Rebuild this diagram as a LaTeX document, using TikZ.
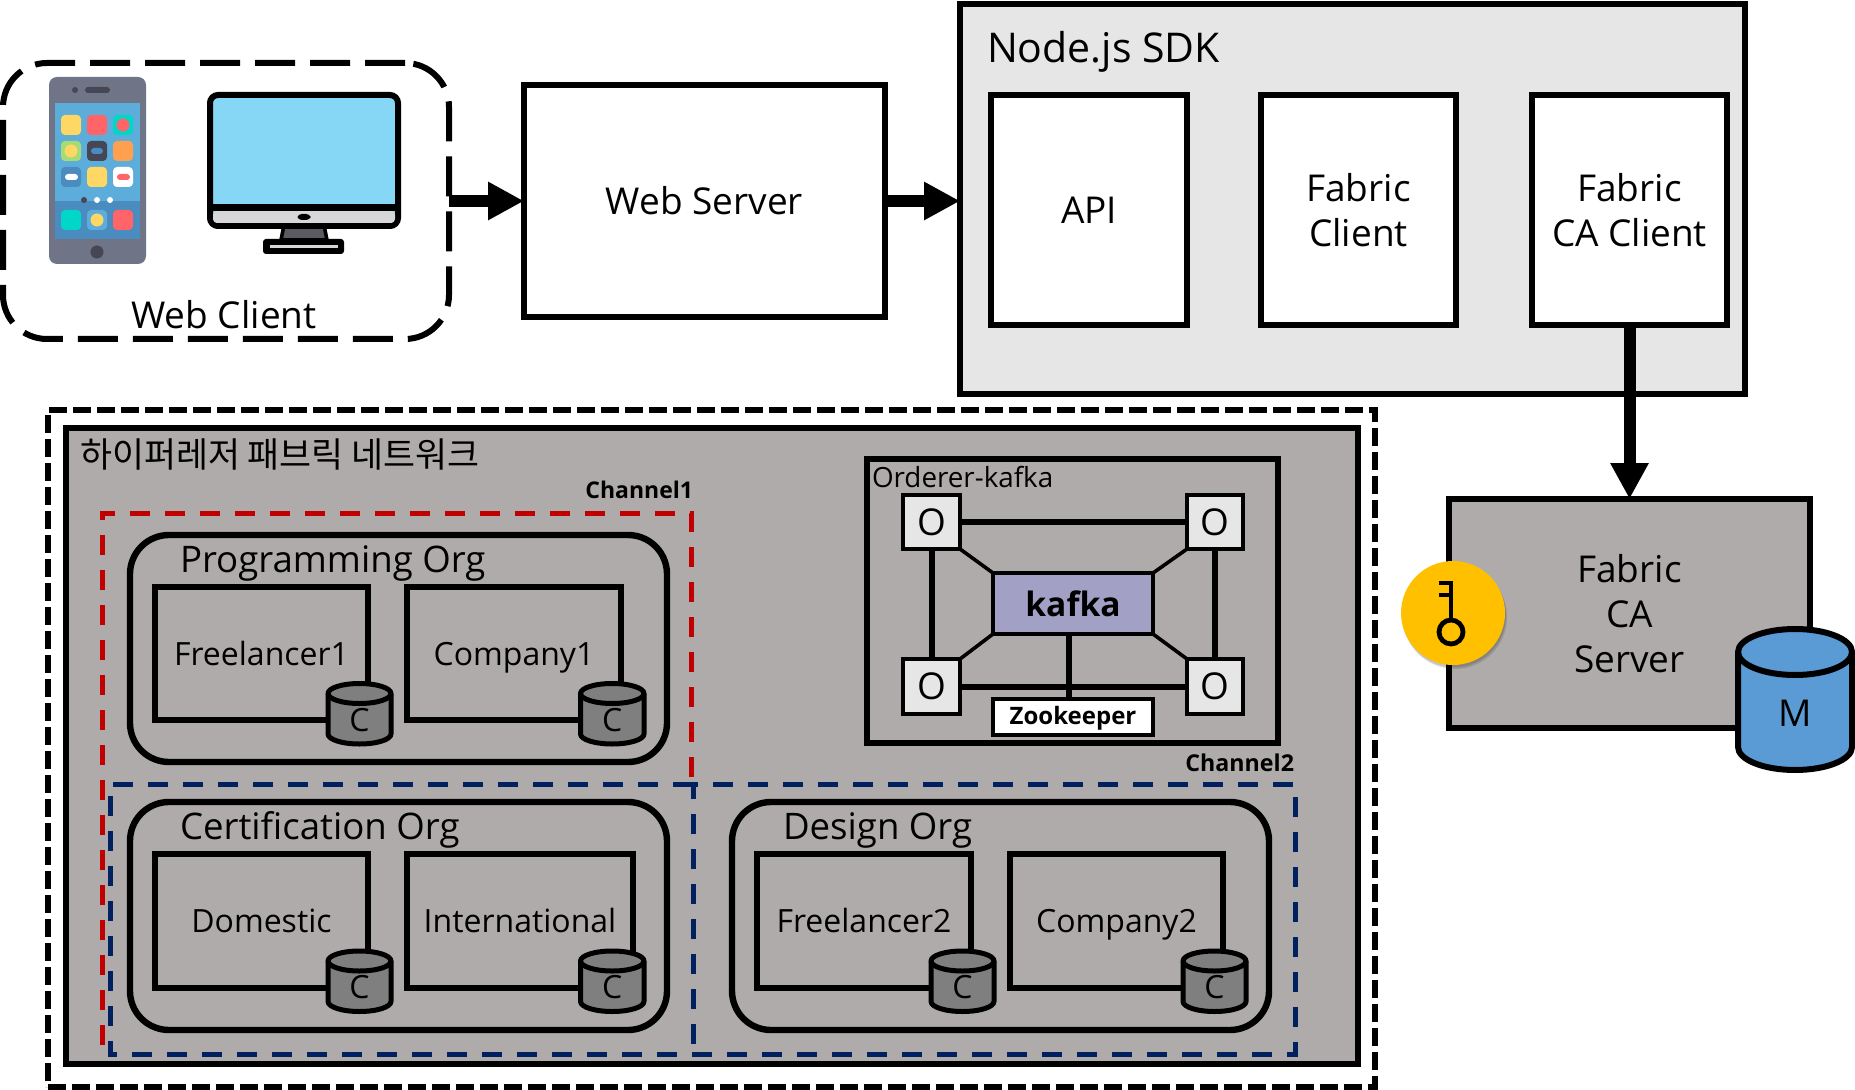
\documentclass[tikz,border=0pt]{standalone}
\usepackage{fontspec}
\setmainfont{Open Sans}
\newfontfamily\krfont{Noto Sans CJK KR}
\usetikzlibrary{arrows.meta}
\definecolor{netgray}{HTML}{AFABAB}
\definecolor{sdkgray}{HTML}{E7E6E6}
\definecolor{cylgray}{HTML}{7F7F7F}
\definecolor{cylblue}{HTML}{5B9BD5}
\definecolor{keygold}{HTML}{FFC000}
\definecolor{redline}{HTML}{C00000}
\definecolor{blueline}{HTML}{002060}
\definecolor{kafkaback}{HTML}{A3A0C6}
\definecolor{phonegray}{HTML}{707487}
\definecolor{phonesky}{HTML}{5DADDA}
\definecolor{phonedock}{HTML}{4A8BC0}
\definecolor{phonedark}{HTML}{464655}
\definecolor{phoneyel}{HTML}{FFD764}
\definecolor{phonered}{HTML}{FF6469}
\definecolor{phoneteal}{HTML}{00D7C8}
\definecolor{phonegrn}{HTML}{A5DC78}
\definecolor{phoneorg}{HTML}{FFA050}
\definecolor{monsky}{HTML}{85D7F5}
\definecolor{monchin}{HTML}{D7D7DA}
\definecolor{monstand}{HTML}{5A5A60}
\newcommand\bigfont{\fontsize{18.5}{22.5}\selectfont}
\newcommand\midfont{\fontsize{16}{19}\selectfont}
\newcommand\orgfont{\fontsize{18.3}{22}\selectfont}
\tikzset{
  every node/.style={inner sep=0pt,outer sep=0pt,align=center},
  thickbox/.style={draw=black,line width=3.2pt,rectangle},
  whitebox/.style={thickbox,fill=white,font=\bigfont},
  sdkbox/.style={thickbox,fill=sdkgray},
  serverbox/.style={thickbox,fill=netgray,font=\bigfont},
  orgbox/.style={thickbox,rounded corners=19.5pt},
  peerbox/.style={thickbox,font=\midfont,text height=11.5pt,text depth=0pt},
  ordererbox/.style={draw=black,line width=2.7pt,rectangle},
  obox/.style={draw=black,line width=2.3pt,rectangle,fill=sdkgray,font=\bigfont},
  kafkabox/.style={draw=black,line width=1.8pt,rectangle,fill=kafkaback,font=\fontsize{16.8}{20}\selectfont\bfseries},
  zkbox/.style={draw=black,line width=2pt,rectangle,fill=white,font=\fontsize{12}{14}\selectfont\bfseries,text height=9pt,text depth=1.5pt},
  bigarrow/.style={line width=6pt,-{Triangle[width=18pt,length=18pt]}},
  link/.style={line width=3pt,black},
  thinlink/.style={line width=1.8pt,black},
  netdash/.style={draw=black,line width=3pt,dash pattern=on 9pt off 3pt},
  clientdash/.style={draw=black,line width=3pt,dash pattern=on 20pt off 7.5pt},
  reddash/.style={draw=redline,line width=2.5pt,dash pattern=on 10pt off 7.5pt},
  bluedash/.style={draw=blueline,line width=2.5pt,dash pattern=on 10pt off 7.5pt},
  titletext/.style={font=\orgfont,anchor=west},
}
\newcommand\bx[7]{%
  \pgfmathsetmacro\bxw{(#4-#2)*0.5}\pgfmathsetmacro\bxh{(#5-#3)*0.5}%
  \pgfmathsetmacro\bxcx{(#2+#4)/2}\pgfmathsetmacro\bxcy{(#3+#5)/2}%
  \node[#6,minimum width=\bxw pt,minimum height=\bxh pt] (#1) at (\bxcx,\bxcy) {#7};}
% name x1 x2 yc yb ry fill lw
\newcommand\cyl[9]{%
  \pgfmathsetmacro\cx{(#2+#3)/2}\pgfmathsetmacro\rx{(#3-#2)/2}%
  \pgfmathsetmacro\ka{#5+0.5523*#6}\pgfmathsetmacro\kb{\cx-0.5523*\rx}\pgfmathsetmacro\kc{\cx+0.5523*\rx}%
  \pgfmathsetmacro\ybot{#5+#6}\pgfmathsetmacro\ktA{#4-0.5523*#6}\pgfmathsetmacro\ktB{#4+0.5523*#6}%
  \pgfmathsetmacro\ytop{#4-#6}\pgfmathsetmacro\ylow{#4+#6}%
  \draw[fill=#7,line width=#8,line join=round]
    (#2,#4) -- (#2,#5) .. controls (#2,\ka) and (\kb,\ybot) .. (\cx,\ybot)
    .. controls (\kc,\ybot) and (#3,\ka) .. (#3,#5) -- (#3,#4)
    .. controls (#3,\ktA) and (\kc,\ytop) .. (\cx,\ytop)
    .. controls (\kb,\ytop) and (#2,\ktA) .. (#2,#4) -- cycle;
  \draw[line width=#8] (#2,#4) .. controls (#2,\ktB) and (\kb,\ylow) .. (\cx,\ylow)
    .. controls (\kc,\ylow) and (#3,\ktB) .. (#3,#4);
  \pgfmathsetmacro\ty{\ylow+(\ybot-\ylow)*0.4}%
  \node (#1) at (\cx,\ty) {#9};}
\newcommand\app[2]{\fill[#2,rounded corners=2pt] (#1) ++(-10,-10) rectangle ++(20,20);}
\begin{document}
\begin{tikzpicture}[x=0.5pt,y=-0.5pt]
\useasboundingbox (0,0) rectangle (1855,1090);
% Web client
\bx{wc}{3}{63}{449}{339}{clientdash,rectangle,rounded corners=22pt}{}
\node[anchor=center,font=\bigfont] (wctext) at (224,315) {Web Client};
% phone
\fill[phonegray,rounded corners=4pt] (49,77) rectangle (146,264);
\fill[phonesky] (55,103) rectangle (140,201);
\fill[phonedock] (55,201) rectangle (140,239);
\fill[phonedark] (75,90) circle[radius=3];
\fill[phonedark,rounded corners=1.5pt] (85,87) rectangle (110,93);
\fill[phonedark] (97,252) circle[radius=6.5];
\app{71,125}{phoneyel}\app{97,125}{phonered}\app{123,125}{phoneteal}
\fill[phonered] (123,125) circle[radius=6.5];
\app{71,151}{phonegrn}\app{97,151}{phonedark}\app{123,151}{phoneorg}
\fill[phoneyel] (71,151) circle[radius=6.5];
\fill[phonedock,rounded corners=1.5pt] (91,148) rectangle (103,154);
\app{71,177}{phonedock}\app{97,177}{phoneyel}\app{123,177}{white}
\fill[white,rounded corners=1.5pt] (65,174) rectangle (78,180);
\fill[phonered,rounded corners=1.5pt] (117,174) rectangle (130,180);
\fill[phonedark] (84,200) circle[radius=3];
\fill[white] (97,200) circle[radius=3];
\fill[white] (110,200) circle[radius=3];
\app{71,220}{phoneteal}\app{97,220}{phonesky}\app{123,220}{phonered}
\fill[phoneyel] (97,220) circle[radius=6.5];
% monitor
\draw[fill=monstand,line width=1.8pt,line join=round] (284,225) -- (324,225) -- (327,240) -- (281,240) -- cycle;
\draw[line width=3pt,fill=monsky,rounded corners=4pt] (210,95) rectangle (398,226);
\fill[monchin,rounded corners=2pt] (213,211) rectangle (395,223);
\fill[black] (210,204) rectangle (398,211);
\fill[black,rounded corners=2pt] (297.5,214) rectangle (310.5,220);
\fill[black,rounded corners=1.5pt] (263,239) rectangle (344,254);
\fill[monchin] (270,245.5) rectangle (338,248.5);
% Web server and SDK
\bx{ws}{524}{85}{885}{317}{whitebox}{Web Server}
\bx{sdk}{960}{4}{1745}{394}{sdkbox}{}
\node[anchor=west,font=\fontsize{20.5}{24}\selectfont] (sdktext) at (987,52) {Node.js SDK};
\bx{api}{991}{95}{1187}{325}{whitebox}{API}
\bx{fc}{1261}{95}{1456}{325}{whitebox}{Fabric\\Client}
\bx{cac}{1532}{95}{1727}{325}{whitebox}{Fabric\\CA Client}
% CA server
\bx{cas}{1449}{499}{1810}{728}{serverbox}{Fabric\\CA\\Server}
\fill[black,opacity=.12] (1455,617) circle[radius=52];
\fill[black,opacity=.12] (1454,615.5) circle[radius=52];
\node[circle,fill=keygold,minimum size=52pt] (key) at (1453,613) {};
\draw[line width=2.4pt] (1451,632) circle[radius=12];
\draw[line width=2.4pt] (1451,620) -- (1451,583) -- (1439,583);
\draw[line width=2.4pt] (1451,595) -- (1439,595);
\cyl{mdb}{1738}{1852}{652}{747}{23}{cylblue}{3pt}{\bigfont M}
% arrows
\draw[bigarrow] (wc.east |- ws.west) -- (ws.west);
\draw[bigarrow] (ws.east) -- (ws.east -| sdk.west);
\draw[bigarrow] (cac.south) -- (cas.north);
% Network
\bx{netouter}{48}{410}{1375}{1087}{netdash,rectangle}{}
\bx{net}{66}{428}{1358}{1064}{thickbox,fill=netgray}{}
\node[anchor=west,font=\krfont\fontsize{17.4}{20}\selectfont] (nettitle) at (80,454) {하이퍼레저 패브릭 네트워크};
\node[anchor=east,font=\fontsize{11.5}{14}\selectfont\bfseries] (ch1) at (693,490) {Channel1};
\node[anchor=east,font=\fontsize{11.6}{14}\selectfont\bfseries] (ch2) at (1294,763) {Channel2};
\coordinate (r1) at (102,1045);\coordinate (r2) at (102,513);\coordinate (r3) at (691,513);\coordinate (r4) at (691,784);
\draw[reddash] (r1) -- (r2) -- (r3) -- (r4);
\coordinate (b1) at (693,784);\coordinate (b2) at (110,784);\coordinate (b3) at (110,1054);\coordinate (b4) at (693,1054);
\coordinate (b5) at (1295,784);\coordinate (b6) at (1295,1054);
\draw[bluedash] (b1) -- (b2) -- (b3) -- (b4) -- (b6) -- (b5) -- (b1) -- (b4);
% Orgs
\bx{org1}{130}{535}{667}{762}{orgbox}{}
\node[titletext] (org1t) at (180,563) {Programming Org};
\bx{p1}{155}{587}{368}{720}{peerbox}{Freelancer1}
\bx{p2}{407}{587}{621}{720}{peerbox}{Company1}
\cyl{c1}{328}{391}{693.5}{734}{10}{cylgray}{2.5pt}{\midfont C}
\cyl{c2}{580.5}{644}{693.5}{734}{10}{cylgray}{2.5pt}{\midfont C}
\bx{org2}{130}{802}{667}{1030}{orgbox}{}
\node[titletext] (org2t) at (180,830) {Certification Org};
\bx{p3}{155}{854}{368}{988}{peerbox}{Domestic}
\bx{p4}{407}{854}{633}{988}{peerbox}{International}
\cyl{c3}{328}{391}{961}{1001.5}{10}{cylgray}{2.5pt}{\midfont C}
\cyl{c4}{580.5}{644}{961}{1001.5}{10}{cylgray}{2.5pt}{\midfont C}
\bx{org3}{732}{802}{1269}{1030}{orgbox}{}
\node[titletext] (org3t) at (783,830) {Design Org};
\bx{p5}{757}{854}{971}{988}{peerbox}{Freelancer2}
\bx{p6}{1010}{854}{1223}{988}{peerbox}{Company2}
\cyl{c5}{931}{994}{961}{1001.5}{10}{cylgray}{2.5pt}{\midfont C}
\cyl{c6}{1183}{1246}{961}{1001.5}{10}{cylgray}{2.5pt}{\midfont C}
% Orderer
\bx{ord}{867}{459}{1278}{743}{ordererbox}{}
\node[anchor=west,font=\fontsize{13.9}{17}\selectfont] (ordt) at (872,477) {Orderer-kafka};
\bx{o1}{903}{495}{960}{549}{obox}{O}
\bx{o2}{1187}{495}{1243}{549}{obox}{O}
\bx{o3}{903}{659}{960}{714}{obox}{O}
\bx{o4}{1187}{659}{1243}{714}{obox}{O}
\bx{kafka}{993}{573}{1153}{634}{kafkabox}{kafka}
\bx{zk}{993}{699}{1153}{735}{zkbox}{Zookeeper}
\draw[link] (o1) -- (o2);
\draw[link] (o1) -- (o3);
\draw[link] (o2) -- (o4);
\draw[link] (o3) -- (o4);
\draw[thinlink] (o1.south east) -- (kafka.north west);
\draw[thinlink] (o2.south west) -- (kafka.north east);
\draw[thinlink] (o3.north east) -- (kafka.south west);
\draw[thinlink] (o4.north west) -- (kafka.south east);
\draw[link] ([xshift=-2pt]kafka.south) -- ([xshift=-2pt]zk.north);
\end{tikzpicture}
\end{document}
